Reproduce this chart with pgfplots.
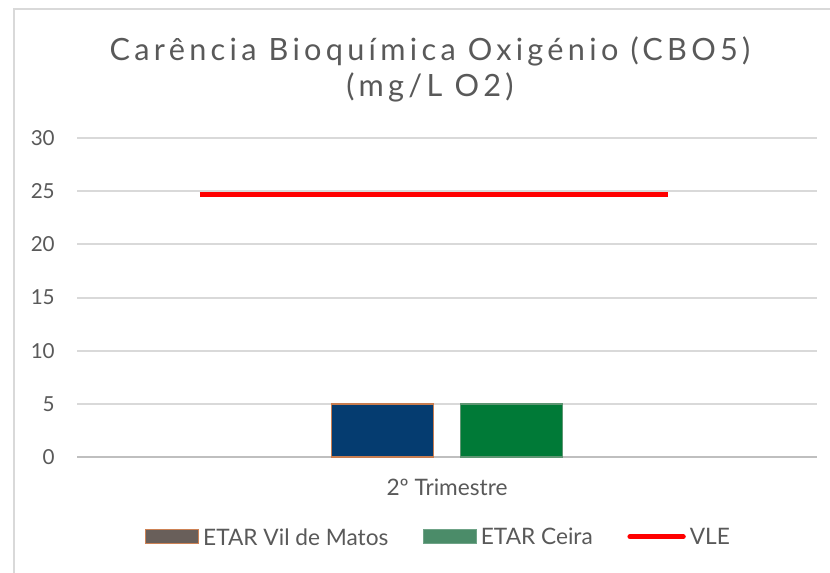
\documentclass[border=0pt]{standalone}
\usepackage{fontspec}
\setmainfont{Lato}
\usepackage{pgfplots}
\pgfplotsset{compat=1.18}
\definecolor{textgray}{RGB}{89,89,89}
\definecolor{gridgray}{RGB}{217,217,217}
\definecolor{axisgray}{RGB}{191,191,191}
\definecolor{framegray}{RGB}{217,217,217}
\definecolor{barblue}{RGB}{5,60,112}
\definecolor{barblueedge}{RGB}{200,125,80}
\definecolor{bargreen}{RGB}{0,122,55}
\definecolor{bargreenedge}{RGB}{95,150,115}
\definecolor{legbrown}{RGB}{105,95,90}
\definecolor{legorange}{RGB}{205,130,85}
\definecolor{leggreen}{RGB}{75,140,105}
\definecolor{vlered}{RGB}{255,0,0}
\begin{document}
\begin{tikzpicture}
\useasboundingbox (0,0) rectangle (622.5pt,-429pt);
\draw[framegray, line width=1.2pt] (10.5pt,-440pt) -- (10.5pt,-6.75pt) -- (640pt,-6.75pt);
\node[anchor=base, text=textgray, font=\fontsize{23}{28}\selectfont\addfontfeature{LetterSpace=14}] at (322.5pt,-45.5pt) {Carência Bioquímica Oxigénio (CBO5)};
\node[anchor=base, text=textgray, font=\fontsize{23}{28}\selectfont\addfontfeature{LetterSpace=14}] at (322.5pt,-72pt) {(mg/L O2)};
\begin{axis}[
  at={(57.75pt,-342.75pt)}, anchor=south west,
  scale only axis, width=555pt, height=239.25pt,
  xmin=-1, xmax=1, ymin=0, ymax=30,
  separate axis lines,
  axis x line*=bottom, axis y line*=left,
  x axis line style={draw=axisgray, line width=1.5pt, -},
  y axis line style={draw=none},
  ytick={0,5,...,30}, xtick={0}, xticklabels={2º Trimestre},
  major tick length=0pt,
  ymajorgrids, grid style={gridgray, line width=1.5pt},
  tick label style={text=textgray, font=\fontsize{15.5}{18}\selectfont},
  /pgf/number format/assume math mode=true,
  yticklabel style={anchor=east, inner sep=0pt, xshift=-16.5pt},
  xticklabel style={anchor=base, inner sep=0pt, yshift=-28.5pt, font=\fontsize{17}{20}\selectfont},
  legend style={at={(axis description cs:0.0919,-0.253)}, anchor=west,
    draw=none, fill=none, inner sep=0pt, outer sep=0pt,
    legend columns=3, font=\fontsize{17}{20}\selectfont, text=textgray,
    nodes={inner sep=0pt},
    /tikz/every odd column/.append style={column sep=3pt},
    /tikz/every even column/.append style={column sep=26pt}},
  legend cell align=left,
]
\addplot[ybar, bar width=76.5pt, bar shift=0pt, fill=barblue, draw=barblueedge, line width=1.1pt,
  legend image code/.code={\draw[fill=legbrown, draw=legorange, line width=0.9pt] (0pt,-4.5pt) rectangle (39.75pt,6pt);}]
  coordinates {(-0.175,5)};
\addlegendentry{ETAR Vil de Matos}
\addplot[ybar, bar width=76.5pt, bar shift=0pt, fill=bargreen, draw=bargreenedge, line width=1.1pt,
  legend image code/.code={\draw[fill=leggreen, draw=leggreen!80!white, line width=0.6pt] (0pt,-4.5pt) rectangle (39.75pt,6pt);}]
  coordinates {(0.175,5)};
\addlegendentry{ETAR Ceira}
\addplot[vlered, line width=4pt,
  legend image code/.code={\draw[vlered, line width=3.75pt, line cap=round] (1pt,0.75pt) -- (41pt,0.75pt);}]
  coordinates {(-0.668,24.7) (0.597,24.7)};
\addlegendentry{VLE}
\end{axis}
\end{tikzpicture}
\end{document}
